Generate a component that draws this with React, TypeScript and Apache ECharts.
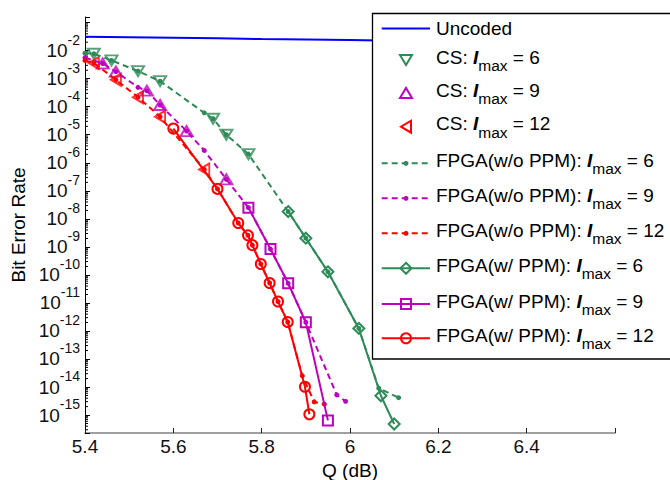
import React, { useEffect, useRef } from 'react';
import * as echarts from 'echarts';

// ---------- data (Q in dB, bit error rate) ----------
const qUncoded = [5.4, 5.5, 5.6, 5.7, 5.8, 5.9, 6.0, 6.1, 6.2, 6.3, 6.4, 6.5, 6.6];
const berUncoded = [3.1e-2, 3.0e-2, 2.9e-2, 2.75e-2, 2.6e-2, 2.5e-2, 2.4e-2, 2.25e-2, 2.15e-2, 2.05e-2, 1.95e-2, 1.85e-2, 1.75e-2];

const qCS6 = [5.42, 5.46, 5.52, 5.57, 5.69, 5.72, 5.77];
const berCS6 = [7.76e-3, 4.47e-3, 1.86e-3, 8.13e-4, 3.72e-5, 1.0e-5, 2.04e-6];

const qCS9 = [5.44, 5.47, 5.54, 5.57, 5.63, 5.72];
const berCS9 = [3.47e-3, 1.78e-3, 3.72e-4, 1.15e-4, 1.35e-5, 2.57e-7];

const qCS12 = [5.42, 5.47, 5.52, 5.57, 5.67];
const berCS12 = [3.63e-3, 9.12e-4, 2.19e-4, 4.37e-5, 5.75e-7];

const qWoPPM6 = [5.40, 5.42, 5.46, 5.52, 5.57, 5.67, 5.69, 5.72, 5.77, 5.86, 5.90, 5.95, 6.02, 6.065, 6.11];
const berWoPPM6 = [8.13e-3, 7.76e-3, 4.47e-3, 1.86e-3, 8.13e-4, 6.03e-5, 3.72e-5, 1.0e-5, 2.04e-6, 1.82e-8, 2.04e-9, 1.29e-10, 1.23e-12, 9.12e-15, 4.17e-15];

const qWoPPM9 = [5.40, 5.44, 5.47, 5.52, 5.54, 5.57, 5.63, 5.67, 5.72, 5.77, 5.82, 5.86, 5.90, 5.97, 5.99];
const berWoPPM9 = [5.62e-3, 3.47e-3, 1.78e-3, 4.9e-4, 3.72e-4, 1.15e-4, 1.35e-5, 2.75e-6, 2.57e-7, 2.51e-8, 8.32e-10, 5.01e-11, 2.04e-12, 5.25e-15, 3.09e-15];

const qWoPPM12 = [5.40, 5.42, 5.47, 5.52, 5.57, 5.67, 5.70, 5.747, 5.769, 5.779, 5.798, 5.818, 5.837, 5.859, 5.892, 5.919, 5.942];
const berWoPPM12 = [4.47e-3, 3.63e-3, 9.12e-4, 2.19e-4, 4.37e-5, 5.75e-7, 1.17e-7, 7.08e-9, 2.57e-9, 1.15e-9, 2.45e-10, 5.13e-11, 1.12e-11, 2.09e-12, 2.51e-14, 2.95e-15, 2.45e-15];

const qWPPM6 = [5.86, 5.90, 5.95, 6.02, 6.07, 6.10];
const berWPPM6 = [1.82e-8, 2.04e-9, 1.29e-10, 1.23e-12, 4.9e-15, 4.79e-16];

const qWPPM9 = [5.77, 5.82, 5.86, 5.90, 5.95];
const berWPPM9 = [2.51e-8, 8.32e-10, 5.01e-11, 2.04e-12, 6.46e-16];

const qWPPM12 = [5.60, 5.70, 5.747, 5.769, 5.779, 5.798, 5.818, 5.837, 5.859, 5.898, 5.908];
const berWPPM12 = [1.66e-5, 1.17e-7, 7.08e-9, 2.57e-9, 1.15e-9, 2.45e-10, 5.13e-11, 1.12e-11, 2.09e-12, 1.02e-14, 1.07e-15];

const xTicks = [5.4, 5.6, 5.8, 6.0, 6.2, 6.4];
const yDecades = [-15, -14, -13, -12, -11, -10, -9, -8, -7, -6, -5, -4, -3, -2];
const minorMantissas = [2, 3, 4, 5, 6, 7, 8, 9];

// ---------- style ----------
const FONT = '"Liberation Sans", Arial, Helvetica, sans-serif';
const GREEN = '#2E8B57';
const MAGENTA = '#BF00BF';
const RED = '#FF0000';
const BLUE = '#0000FF';
const X_MIN = 5.4;
const X_MAX = 6.6;
const Y_MIN = -15.64;
const Y_MAX = -0.8;

const toPts = (q: number[], ber: number[]) => q.map((x, i) => [x, Math.log10(ber[i])]);

const minorTickData: number[][] = [];
for (let n = -16; n <= -1; n++) {
  for (const m of minorMantissas) {
    const L = n + Math.log10(m);
    if (L > Y_MIN && L < Y_MAX) minorTickData.push([X_MIN, L]);
  }
}

const hollow = (c: string) => ({ color: 'rgba(0,0,0,0)', borderColor: c, borderWidth: 2 });

function csSeries(name: string, q: number[], ber: number[], color: string, rotate: number) {
  return {
    name, type: 'scatter', data: toPts(q, ber), symbol: 'triangle', symbolSize: [12, 10],
    symbolRotate: rotate, itemStyle: hollow(color), z: 3,
  };
}
function woSeries(name: string, q: number[], ber: number[], color: string) {
  return {
    name, type: 'line', data: toPts(q, ber), symbol: 'circle', symbolSize: 5, showAllSymbol: true,
    lineStyle: { color, width: 2, type: [6, 4] }, itemStyle: { color }, z: 4,
  };
}
function wSeries(name: string, q: number[], ber: number[], color: string, symbol: string, size: number) {
  return {
    name, type: 'line', data: toPts(q, ber), symbol, symbolSize: size, showAllSymbol: true,
    lineStyle: { color, width: 2 }, itemStyle: hollow(color), z: 5,
  };
}

// ---------- legend (graphic) ----------
const LX0 = 381.7, LX1 = 430, LMX = 406, LTX = 436;
const LZ = 100;
const legendIconY = [28.5, 60, 93, 126.7, 163.3, 198.3, 233.3, 268.3, 304, 338.3];

function marker(kind: string, cx: number, cy: number, color: string): any {
  const st = { fill: 'none', stroke: color, lineWidth: 2 };
  switch (kind) {
    case 'down': return { type: 'polygon', z: LZ + 2, shape: { points: [[cx - 6, cy - 5], [cx + 6, cy - 5], [cx, cy + 5]] }, style: st };
    case 'up': return { type: 'polygon', z: LZ + 2, shape: { points: [[cx - 6, cy + 5], [cx + 6, cy + 5], [cx, cy - 5]] }, style: st };
    case 'left': return { type: 'polygon', z: LZ + 2, shape: { points: [[cx + 5, cy - 6], [cx + 5, cy + 6], [cx - 5, cy]] }, style: st };
    case 'diamond': return { type: 'polygon', z: LZ + 2, shape: { points: [[cx, cy - 5.5], [cx + 5.5, cy], [cx, cy + 5.5], [cx - 5.5, cy]] }, style: st };
    case 'square': return { type: 'rect', z: LZ + 2, shape: { x: cx - 5, y: cy - 5, width: 10, height: 10 }, style: st };
    case 'circle': return { type: 'circle', z: LZ + 2, shape: { cx, cy, r: 5 }, style: st };
    case 'dot': return { type: 'circle', z: LZ + 2, shape: { cx, cy, r: 2.5 }, style: { fill: color } };
  }
  return null;
}

const richLegend = {
  n: { fontSize: 19, fontFamily: FONT, fill: '#000' },
  i: { fontSize: 19, fontFamily: FONT, fill: '#000', fontWeight: 'bold', fontStyle: 'italic' },
  s: { fontSize: 15.5, fontFamily: FONT, fill: '#000', padding: [17, 0, 0, 0] },
};

const legendItems = [
  { text: '{n|Uncoded}', color: BLUE, line: 'solid', mk: '' },
  { text: '{n|CS: }{i|I}{s|max}{n| = 6}', color: GREEN, line: '', mk: 'down' },
  { text: '{n|CS: }{i|I}{s|max}{n| = 9}', color: MAGENTA, line: '', mk: 'up' },
  { text: '{n|CS: }{i|I}{s|max}{n| = 12}', color: RED, line: '', mk: 'left' },
  { text: '{n|FPGA(w/o PPM): }{i|I}{s|max}{n| = 6}', color: GREEN, line: 'dashed', mk: 'dot' },
  { text: '{n|FPGA(w/o PPM): }{i|I}{s|max}{n| = 9}', color: MAGENTA, line: 'dashed', mk: 'dot' },
  { text: '{n|FPGA(w/o PPM): }{i|I}{s|max}{n| = 12}', color: RED, line: 'dashed', mk: 'dot' },
  { text: '{n|FPGA(w/ PPM): }{i|I}{s|max}{n| = 6}', color: GREEN, line: 'solid', mk: 'diamond' },
  { text: '{n|FPGA(w/ PPM): }{i|I}{s|max}{n| = 9}', color: MAGENTA, line: 'solid', mk: 'square' },
  { text: '{n|FPGA(w/ PPM): }{i|I}{s|max}{n| = 12}', color: RED, line: 'solid', mk: 'circle' },
];

function buildLegend() {
  const els: any[] = [
    { type: 'rect', z: LZ, shape: { x: 372.5, y: 13.5, width: 310, height: 345.5 }, style: { fill: '#fff', stroke: '#000', lineWidth: 1.3 } },
  ];
  legendItems.forEach((it, k) => {
    const y = legendIconY[k];
    if (it.line) {
      els.push({
        type: 'line', z: LZ + 1, shape: { x1: LX0, y1: y, x2: LX1, y2: y },
        style: { stroke: it.color, lineWidth: 2, lineDash: it.line === 'dashed' ? [6, 4] : null },
      });
    }
    if (it.mk) els.push(marker(it.mk, LMX, y, it.color));
    els.push({
      type: 'text', z: LZ + 1, x: LTX, y: k === 0 ? y : y - 3,
      style: { text: it.text, rich: richLegend, fontSize: 19, fontFamily: FONT, fill: '#000', align: 'left', verticalAlign: 'middle' },
    });
  });
  return els;
}

export default function App() {
  const ref = useRef<HTMLDivElement>(null);
  useEffect(() => {
    if (!ref.current) return;
    const chart = echarts.init(ref.current, null, { renderer: 'svg' });
    const option: any = {
      animation: false,
      backgroundColor: '#fff',
      textStyle: { fontFamily: FONT },
      grid: { left: 85, right: 55, top: 17, bottom: 47, containLabel: false, outerBoundsMode: 'none' },
      xAxis: {
        type: 'value', min: X_MIN, max: X_MAX, interval: 0.2,
        name: 'Q (dB)', nameLocation: 'middle', nameGap: 24,
        nameTextStyle: { fontSize: 19, fontFamily: FONT, color: '#000' },
        axisLine: { lineStyle: { color: '#808080', width: 1.6 } },
        axisTick: { inside: true, length: 5, lineStyle: { color: '#222' } },
        axisLabel: {
          fontSize: 19, fontFamily: FONT, color: '#111', margin: 4,
          formatter: (v: number) => {
            const hit = xTicks.find((t) => Math.abs(t - v) < 1e-6);
            return hit === undefined ? '' : String(hit);
          },
        },
        splitLine: { show: false },
      },
      yAxis: {
        type: 'value', min: Y_MIN, max: Y_MAX, minInterval: 1, maxInterval: 1, splitNumber: 15,
        name: 'Bit Error Rate', nameLocation: 'middle', nameGap: 53, nameRotate: 90,
        nameTextStyle: { fontSize: 19, fontFamily: FONT, color: '#000' },
        axisLine: { lineStyle: { color: '#000', width: 1 } },
        axisTick: { inside: true, length: 5, lineStyle: { color: '#000' } },
        axisLabel: {
          margin: 5,
          formatter: (v: number) => {
            const hit = yDecades.find((d) => Math.abs(d - v) < 1e-6);
            return hit === undefined ? '' : `{b|10}{e|${hit}}`;
          },
          rich: {
            b: { fontSize: 19, fontFamily: FONT, color: '#111' },
            e: { fontSize: 14, fontFamily: FONT, color: '#111', padding: [0, 0, 22, 0] },
          },
        },
        splitLine: { show: false },
      },
      series: [
        {
          name: 'minorTicks', type: 'custom', silent: true, data: minorTickData, z: 1,
          renderItem: (_p: any, api: any) => {
            const pt = api.coord([api.value(0), api.value(1)]);
            return { type: 'line', shape: { x1: pt[0], y1: pt[1], x2: pt[0] + 3, y2: pt[1] }, style: { stroke: '#000', lineWidth: 1 } };
          },
        },
        { name: 'Uncoded', type: 'line', data: toPts(qUncoded, berUncoded), symbol: 'none', lineStyle: { color: BLUE, width: 2 }, z: 2 },
        csSeries('CS: Imax = 6', qCS6, berCS6, GREEN, 180),
        csSeries('CS: Imax = 9', qCS9, berCS9, MAGENTA, 0),
        csSeries('CS: Imax = 12', qCS12, berCS12, RED, 90),
        woSeries('FPGA(w/o PPM): Imax = 6', qWoPPM6, berWoPPM6, GREEN),
        woSeries('FPGA(w/o PPM): Imax = 9', qWoPPM9, berWoPPM9, MAGENTA),
        woSeries('FPGA(w/o PPM): Imax = 12', qWoPPM12, berWoPPM12, RED),
        wSeries('FPGA(w/ PPM): Imax = 6', qWPPM6, berWPPM6, GREEN, 'diamond', 11),
        wSeries('FPGA(w/ PPM): Imax = 9', qWPPM9, berWPPM9, MAGENTA, 'rect', 10),
        wSeries('FPGA(w/ PPM): Imax = 12', qWPPM12, berWPPM12, RED, 'circle', 10),
      ],
      graphic: buildLegend(),
    };
    chart.setOption(option);
    return () => chart.dispose();
  }, []);
  return <div ref={ref} style={{ position: 'fixed', left: 0, top: 0, width: 670, height: 480, background: '#fff' }} />;
}
